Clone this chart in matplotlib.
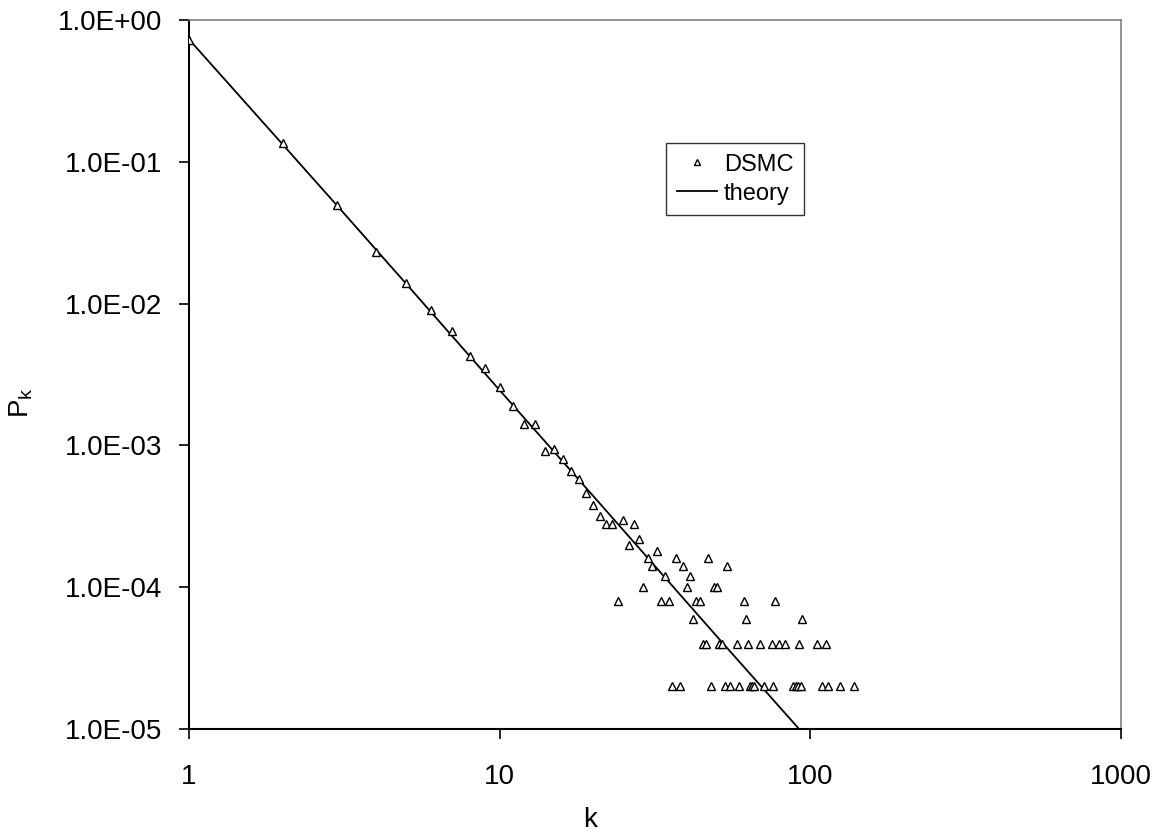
import matplotlib
matplotlib.use("Agg")
import matplotlib.pyplot as plt
from matplotlib.ticker import FixedLocator, FixedFormatter, NullLocator

plt.rcParams["font.family"] = ["Liberation Sans", "DejaVu Sans"]

# DSMC simulation results
k_dsmc = [1, 2, 3, 4, 5, 6, 7, 8, 9, 10,
          11, 12, 13, 14, 15, 16, 17, 18, 19, 20,
          21, 22, 23, 24, 25, 26, 27, 28, 29, 30,
          31, 32, 33, 34, 35, 36, 37, 38, 39, 40,
          41, 42, 43, 44, 45, 46, 47, 48, 49, 50,
          51, 52, 53, 54, 55, 58, 59, 61, 62, 63,
          64, 65, 66, 69, 71, 75, 76, 77, 79, 83,
          88, 90, 91, 92, 93, 94, 105, 109, 112, 114,
          125, 138]
p_dsmc = [0.725, 0.136, 0.0496, 0.0232, 0.0139, 0.0090, 0.0064, 0.0043, 0.0035, 0.0026,
          0.0019, 0.00142, 0.00142, 0.00092, 0.00094, 0.00080, 0.00066, 0.00058, 0.00046, 0.00038,
          3.2e-4, 2.8e-4, 2.8e-4, 8e-5, 3.0e-4, 2.0e-4, 2.8e-4, 2.2e-4, 1.0e-4, 1.6e-4,
          1.4e-4, 1.8e-4, 8e-5, 1.2e-4, 8e-5, 2e-5, 1.6e-4, 2e-5, 1.4e-4, 1.0e-4,
          1.2e-4, 6e-5, 8e-5, 8e-5, 4e-5, 4e-5, 1.6e-4, 2e-5, 1.0e-4, 1.0e-4,
          4e-5, 4e-5, 2e-5, 1.4e-4, 2e-5, 4e-5, 2e-5, 8e-5, 6e-5, 4e-5,
          2e-5, 2e-5, 2e-5, 4e-5, 2e-5, 4e-5, 2e-5, 8e-5, 4e-5, 4e-5,
          2e-5, 2e-5, 2e-5, 4e-5, 2e-5, 6e-5, 4e-5, 2e-5, 4e-5, 2e-5,
          2e-5, 2e-5]

# theory curve (straight line on log-log axes)
k_theory = [1, 2, 3, 5, 10, 20, 50, 92]
p_theory = [0.73, 0.133, 0.049, 0.0138, 0.00245, 0.00044, 4.5e-5, 1.0e-5]

x_ticks = [1, 10, 100, 1000]
x_labels = ["1", "10", "100", "1000"]
y_ticks = [1e-5, 1e-4, 1e-3, 1e-2, 1e-1, 1e0]
y_labels = ["1.0E-05", "1.0E-04", "1.0E-03", "1.0E-02", "1.0E-01", "1.0E+00"]

fig = plt.figure(figsize=(11.6, 8.36), dpi=100)
ax = fig.add_axes([189 / 1160, 1 - 729 / 836, 932 / 1160, 709 / 836])

ax.plot(k_dsmc, p_dsmc, linestyle="none", marker="^", markersize=5.5,
        markerfacecolor="white", markeredgecolor="black", markeredgewidth=1,
        label="DSMC", zorder=3)
ax.plot(k_theory, p_theory, color="black", linewidth=1.3, label="theory", zorder=2)

ax.set_xscale("log")
ax.set_yscale("log")
ax.set_xlim(1, 1000)
ax.set_ylim(1e-5, 1)

ax.xaxis.set_major_locator(FixedLocator(x_ticks))
ax.xaxis.set_major_formatter(FixedFormatter(x_labels))
ax.xaxis.set_minor_locator(NullLocator())
ax.yaxis.set_major_locator(FixedLocator(y_ticks))
ax.yaxis.set_major_formatter(FixedFormatter(y_labels))
ax.yaxis.set_minor_locator(NullLocator())

ax.tick_params(axis="x", direction="out", length=7, width=1.2, labelsize=20, pad=18)
ax.tick_params(axis="y", direction="out", length=7, width=1.2, labelsize=20, pad=12)

for side in ["left", "bottom"]:
    ax.spines[side].set_color("black")
    ax.spines[side].set_linewidth(1.5)
for side in ["top", "right"]:
    ax.spines[side].set_color("#808080")
    ax.spines[side].set_linewidth(1.2)

ax.set_xlabel("k", fontsize=20)
ax.xaxis.set_label_coords(0.43, -0.11)
ax.set_ylabel(r"$\mathregular{P_k}$", fontsize=20)
ax.yaxis.set_label_coords(-0.165, 0.46)

leg = ax.legend(loc="upper left", bbox_to_anchor=(0.512, 0.8265), borderaxespad=0,
                fontsize=17, frameon=True, fancybox=False, handlelength=1.7,
                handletextpad=0.3, borderpad=0.45, labelspacing=0.3, markerscale=0.8)
leg.get_frame().set_edgecolor("black")
leg.get_frame().set_linewidth(1.0)

fig.savefig("out.png", dpi=100)
